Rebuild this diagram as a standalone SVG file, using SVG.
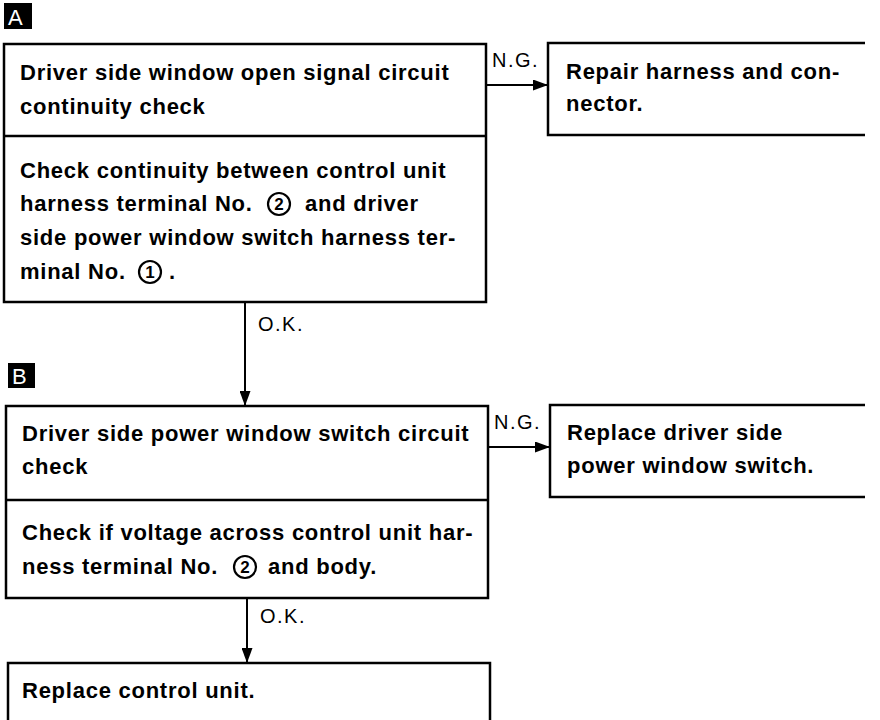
<svg xmlns="http://www.w3.org/2000/svg" width="880" height="720" viewBox="0 0 880 720">
<style>
.box{fill:none;stroke:#000;stroke-width:2.5}
.ln{fill:none;stroke:#000;stroke-width:2}
.cir{fill:none;stroke:#000;stroke-width:2.2}
.t{font-family:"Liberation Sans",Arial,sans-serif;font-size:22px;font-weight:bold;letter-spacing:0.75px;fill:#000}
.d{font-family:"Liberation Sans",Arial,sans-serif;font-size:17px;font-weight:bold;fill:#000;text-anchor:middle}
.lbl{font-family:"Liberation Sans",Arial,sans-serif;font-size:20px;letter-spacing:1.5px;fill:#000}
.tag{font-family:"Liberation Sans",Arial,sans-serif;font-size:22px;fill:#fff}
</style>
<defs>
<marker id="ah" viewBox="0 0 15 11" refX="15" refY="5.5" markerWidth="15" markerHeight="11" orient="auto" markerUnits="userSpaceOnUse">
<path d="M0,0 L15,5.5 L0,11 z" fill="#000"/>
</marker>
</defs>

<g id="tagA">
<rect x="4" y="3" width="28" height="26" fill="#000"/>
<text class="tag" x="8" y="25">A</text>
</g>
<g id="tagB">
<rect x="8" y="363" width="27" height="25" fill="#000"/>
<text class="tag" x="12" y="384">B</text>
</g>

<g id="nodeA">
<rect class="box" x="4" y="44" width="482" height="258"/>
<line class="box" x1="4" y1="136" x2="486" y2="136"/>
<text class="t" x="20" y="80">Driver side window open signal circuit</text>
<text class="t" x="20" y="114">continuity check</text>
<text class="t" x="20" y="178">Check continuity between control unit</text>
<text class="t" x="20" y="211">harness terminal No.</text>
<circle class="cir" cx="279" cy="204" r="11"/>
<text class="d" x="279" y="210">2</text>
<text class="t" x="305" y="211">and driver</text>
<text class="t" x="20" y="245">side power window switch harness ter-</text>
<text class="t" x="20" y="279">minal No.</text>
<circle class="cir" cx="150" cy="272" r="11"/>
<text class="d" x="150" y="278">1</text>
<text class="t" x="169" y="279">.</text>
</g>

<g id="nodeA_ng">
<path class="box" d="M865,43 H548 V135 H865"/>
<text class="t" x="566" y="79">Repair harness and con-</text>
<text class="t" x="566" y="111">nector.</text>
</g>

<g id="nodeB">
<rect class="box" x="6" y="406" width="482" height="192"/>
<line class="box" x1="6" y1="500" x2="488" y2="500"/>
<text class="t" x="22" y="441">Driver side power window switch circuit</text>
<text class="t" x="22" y="474">check</text>
<text class="t" x="22" y="540">Check if voltage across control unit har-</text>
<text class="t" x="22" y="574">ness terminal No.</text>
<circle class="cir" cx="245" cy="567" r="11"/>
<text class="d" x="245" y="573">2</text>
<text class="t" x="268" y="574">and body.</text>
</g>

<g id="nodeB_ng">
<path class="box" d="M865,405 H550 V497 H865"/>
<text class="t" x="567" y="440">Replace driver side</text>
<text class="t" x="567" y="473">power window switch.</text>
</g>

<g id="nodeC">
<path class="box" d="M8,722 V663 H490 V722"/>
<text class="t" x="22" y="698">Replace control unit.</text>
</g>

<g id="connectors">
<line class="ln" x1="486" y1="85" x2="548" y2="85" marker-end="url(#ah)"/>
<text class="lbl" x="492" y="67">N.G.</text>
<line class="ln" x1="245" y1="302" x2="245" y2="406" marker-end="url(#ah)"/>
<text class="lbl" x="258" y="331">O.K.</text>
<line class="ln" x1="488" y1="447" x2="550" y2="447" marker-end="url(#ah)"/>
<text class="lbl" x="494" y="429">N.G.</text>
<line class="ln" x1="247" y1="598" x2="247" y2="663" marker-end="url(#ah)"/>
<text class="lbl" x="260" y="623">O.K.</text>
</g>
</svg>
